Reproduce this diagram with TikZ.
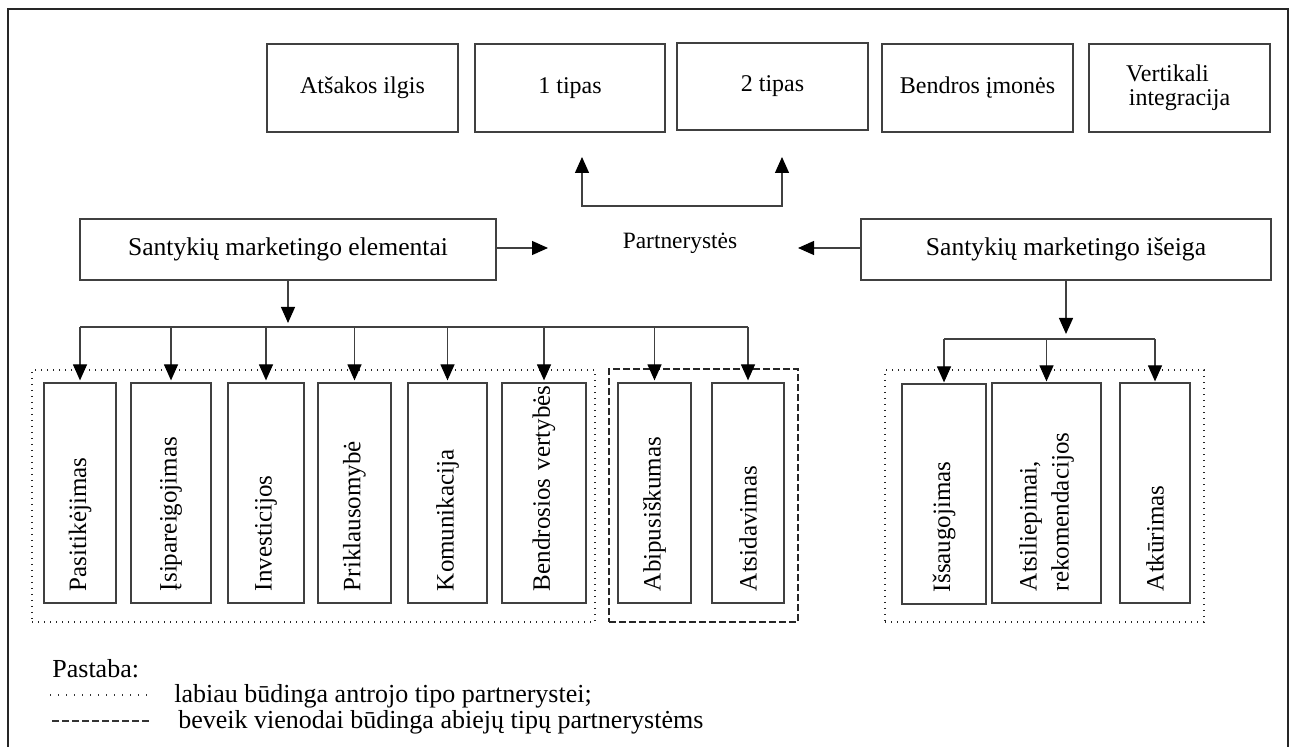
\documentclass[tikz,border=0pt]{standalone}
\usepackage{fontspec}
\setmainfont{Liberation Serif}
\usetikzlibrary{arrows.meta,calc}
\begin{document}
\begin{tikzpicture}[x=0.5pt,y=-0.5pt,
  line/.style={draw=black!75, line width=0.6pt},
  arr/.style={line, -{Triangle[length=8pt,width=7pt,color=black]}},
  hbox/.style={draw=black!75, line width=0.6pt, inner sep=0pt, align=center, font=\fontsize{12}{12}\selectfont},
  mbox/.style={hbox, font=\fontsize{12.8}{13}\selectfont},
  vbox/.style={draw=black!75, line width=0.6pt, rotate=90, inner xsep=6pt, inner ysep=0pt, text width=98pt, minimum width=110pt, align=left, font=\fontsize{12.5}{13}\selectfont},
  dotbox/.style={draw=black!85, line width=0.65pt, dash pattern=on 0.6pt off 2.4pt, inner sep=0pt},
  dashbox/.style={draw=black!85, line width=0.65pt, dash pattern=on 3.5pt off 1.5pt, inner sep=0pt},
  legtext/.style={anchor=base west, inner sep=0pt, font=\fontsize{13}{15}\selectfont},
]
\useasboundingbox (0,0) rectangle (1293,747);
\draw[black!85, line width=0.8pt] (8,747) -- (8,9) -- (1288,9) -- (1288,747);

% top boxes
\node[hbox, minimum width=95.5pt, minimum height=44pt] (atsakos) at (362.5,88) {Atšakos ilgis};
\node[hbox, minimum width=95pt, minimum height=44pt] (tipas1) at (570,88) {1 tipas};
\node[hbox, minimum width=95.5pt, minimum height=43.5pt] (tipas2) at (772.5,86.5) {2 tipas};
\node[hbox, minimum width=95.5pt, minimum height=44pt] (bendros) at (977.5,88) {Bendros įmonės};
\node[hbox, minimum width=90.5pt, minimum height=44pt] (vert) at (1179.5,88) {Vertikali\hspace*{12pt}\\integracija};

% middle row
\node[mbox, minimum width=208pt, minimum height=30.5pt] (elem) at (288,249.5) {Santykių marketingo elementai};
\node[mbox, minimum width=205pt, minimum height=30.5pt] (iseiga) at (1066,249.5) {Santykių marketingo išeiga};
\node[inner sep=0pt, font=\fontsize{11.7}{12}\selectfont] (part) at (680,243) {Partnerystės};

% element boxes
\node[vbox, minimum height=36pt] (p1) at (80,493) {\mbox{Pasitikėjimas}};
\node[vbox, minimum height=40pt] (p2) at (171,493) {\mbox{Įsipareigojimas}};
\node[vbox, minimum height=38pt] (p3) at (266,493) {\mbox{Investicijos}};
\node[vbox, minimum height=36.5pt] (p4) at (354.5,493) {\mbox{Priklausomybė}};
\node[vbox, minimum height=39.5pt] (p5) at (447.5,493) {\mbox{Komunikacija}};
\node[vbox, minimum height=42pt] (p6) at (544,493) {\mbox{Bendrosios vertybės}};
\node[vbox, minimum height=36.5pt] (p7) at (654.5,493) {\mbox{Abipusiškumas}};
\node[vbox, minimum height=36pt] (p8) at (748,493) {\mbox{Atsidavimas}};

% outcome boxes
\node[vbox, minimum height=42pt] (r1) at (944,494) {\mbox{Išsaugojimas}};
\node[vbox, minimum height=54.5pt, font=\fontsize{12.5}{16}\selectfont] (r2) at (1046.5,493) {\mbox{Atsiliepimai,}\\\mbox{rekomendacijos}};
\node[vbox, minimum height=35pt] (r3) at (1155,493) {\mbox{Atkūrimas}};

% group frames
\node[dotbox, minimum width=281.5pt, minimum height=126pt] (g1) at (313.5,496) {};
\node[dashbox, minimum width=94.5pt, minimum height=126.5pt] (g2) at (703.5,495.5) {};
\node[dotbox, minimum width=159.5pt, minimum height=126pt] (g3) at (1044.5,496) {};

% arrows to Partnerystes
\coordinate (pl) at (548,248);
\coordinate (pr) at (798,248);
\draw[arr] (elem.east |- pl) -- (pl);
\draw[arr] (iseiga.west |- pr) -- (pr);

% bracket up to types
\coordinate (u1) at (582,157);
\coordinate (u2) at (782,157);
\coordinate (ub) at (682,206);
\draw[line, {Triangle[length=8pt,width=7pt,color=black]}-{Triangle[length=8pt,width=7pt,color=black]}] (u1) -- (u1 |- ub) -- (u2 |- ub) -- (u2);

% elements tree
\coordinate (bus1) at (288,327);
\draw[arr] (elem.south) -- ($(bus1)+(0,-4)$);
\draw[line] (p1.east |- bus1) -- (p8.east |- bus1);
\foreach \n in {p1,p2,p3,p4,p5,p6,p7,p8} \draw[arr] (\n.east |- bus1) -- ($(\n.east)+(0,-2)$);

% outcome tree
\coordinate (bus2) at (1066,339);
\draw[arr] (iseiga.south) -- ($(bus2)+(0,-5)$);
\draw[line] (r1.east |- bus2) -- (r3.east |- bus2);
\foreach \n in {r1,r2,r3} \draw[arr] (\n.east |- bus2) -- ($(\n.east)+(0,-1)$);

% legend
\node[legtext] (pastaba) at (52,677) {Pastaba:};
\draw[black!80, line width=0.6pt, dash pattern=on 0.6pt off 3.4pt] (50,695) -- (152,695);
\node[legtext] (leg1) at (174,702) {labiau būdinga antrojo tipo partnerystei;};
\draw[black!80, line width=0.6pt, dash pattern=on 3.5pt off 1.5pt] (52,721) -- (152,721);
\node[legtext] (leg2) at (178,728) {beveik vienodai būdinga abiejų tipų partnerystėms};
\end{tikzpicture}
\end{document}
